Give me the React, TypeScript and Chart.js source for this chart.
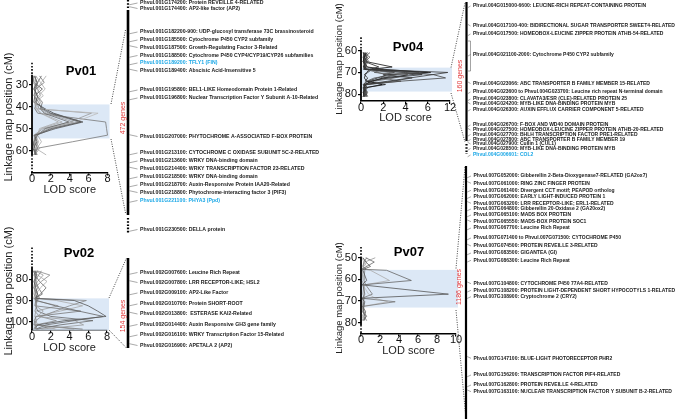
import React, { useEffect, useRef } from "react";
import { Chart, registerables } from "chart.js";

Chart.register(...registerables);

const FONT = "'Liberation Sans', Arial, Helvetica, sans-serif";

// ---------------- Pv01 ----------------
const pv01Markers = [26, 29, 32, 35, 38, 41, 43, 47, 50, 53, 56, 59, 62];
const pv01Profiles = [
  [0.3, 0.5, 0.2, 0.6, 0.4, 1.2, 2.0, 5.4, 2.5, 0.3, 0.5, 0.2, 0.4],
  [0.8, 1.3, 0.4, 0.2, 0.7, 1.0, 1.8, 5.0, 2.2, 0.5, 0.3, 0.6, 0.2],
  [0.2, 0.1, 0.6, 0.9, 0.3, 0.8, 1.5, 4.4, 1.8, 0.2, 0.4, 0.8, 0.3],
  [1.0, 0.6, 0.3, 0.5, 1.1, 0.9, 1.3, 3.9, 1.4, 0.6, 0.2, 0.3, 0.5],
  [0.4, 0.9, 1.4, 0.7, 0.2, 0.5, 1.0, 3.2, 1.0, 0.4, 0.7, 0.4, 1.5],
  [0.5, 0.2, 0.8, 0.3, 0.5, 0.4, 7.0, 4.6, 1.5, 0.5, 0.3, 0.2, 0.6],
  [0.3, 0.4, 0.2, 0.5, 0.9, 0.6, 6.3, 4.0, 1.2, 0.2, 0.6, 0.4, 0.3],
  [0.2, 0.6, 0.4, 0.3, 0.5, 0.3, 0.6, 7.8, 7.9, 8.0, 4.3, 0.5, 0.3],
  [1.5, 1.0, 0.5, 1.2, 0.4, 0.3, 0.9, 2.8, 0.8, 0.6, 1.0, 0.5, 0.2],
  [0.1, 0.2, 1.1, 0.3, 0.2, 1.4, 2.3, 5.2, 2.0, 0.3, 0.2, 0.1, 0.4],
];
const pv01Colors = ["#555", "#777", "#999", "#666", "#aaa", "#bbb", "#999", "#777", "#aaa", "#444"];
const pv01Interval = [39, 54.5];
const pv01YTicks = [30, 40, 50, 60];
const pv01XTicks = [0, 2, 4, 6, 8];
const pv01XTickLabels = ["0", "2", "4", "6", "8"];
const pv01Count = "472 genes";
const pv01Genes = [
  "Phvul.001G174200: Protein REVEILLE 4-RELATED",
  "Phvul.001G174400: AP2-like factor (AP2)",
  "Phvul.001G182200-900: UDP-glucosyl transferase 73C brassinosteroid",
  "Phvul.001G185500: Cytochrome P450 CYP2 subfamily",
  "Phvul.001G187500: Growth-Regulating Factor 3-Related",
  "Phvul.001G188500: Cytochrome P450 CYP4/CYP19/CYP26 subfamilies",
  "Phvul.001G189200: TFLY1 (FIN)",
  "Phvul.001G189400: Abscisic Acid-Insensitive 5",
  "Phvul.001G195800: BEL1-LIKE Homeodomain Protein 1-Related",
  "Phvul.001G196800: Nuclear Transcription Factor Y Subunit A-10-Related",
  "Phvul.001G207000: PHYTOCHROME A-ASSOCIATED F-BOX PROTEIN",
  "Phvul.001G213100: CYTOCHROME C OXIDASE SUBUNIT 5C-2-RELATED",
  "Phvul.001G213600: WRKY DNA-binding domain",
  "Phvul.001G214400: WRKY TRANSCRIPTION FACTOR 23-RELATED",
  "Phvul.001G218500: WRKY DNA-binding domain",
  "Phvul.001G218700: Auxin-Responsive Protein IAA20-Related",
  "Phvul.001G218800: Phytochrome-interacting factor 3 (PIF3)",
  "Phvul.001G221100: PHYA3 (Ppd)",
  "Phvul.001G230500: DELLA protein",
];

// ---------------- Pv02 ----------------
const pv02Markers = [76, 78, 81, 84, 87, 89, 90, 92.5, 95, 97.5, 99.5, 101.5, 103.5];
const pv02Profiles = [
  [0.3, 0.5, 0.2, 0.4, 0.6, 0.4, 4.5, 6.0, 7.0, 7.9, 3.5, 0.6, 0.3],
  [0.5, 1.9, 1.0, 0.3, 0.4, 0.6, 5.8, 4.0, 2.5, 1.0, 0.4, 0.3, 0.5],
  [0.2, 0.3, 0.8, 1.5, 0.9, 0.3, 0.5, 2.5, 5.0, 7.6, 4.5, 1.5, 0.4],
  [0.4, 0.2, 0.5, 0.3, 0.2, 0.5, 0.6, 0.4, 1.2, 0.6, 4.6, 5.5, 1.0],
  [1.0, 0.7, 0.3, 0.2, 0.6, 0.8, 0.4, 0.3, 5.2, 0.4, 0.3, 0.2, 5.4],
  [0.2, 0.6, 1.6, 0.9, 0.4, 0.3, 2.6, 5.4, 3.0, 0.5, 0.2, 0.8, 2.5],
  [0.6, 0.3, 0.4, 0.7, 1.1, 0.3, 0.5, 0.4, 0.6, 2.0, 6.5, 3.0, 0.5],
  [0.3, 1.2, 0.6, 0.2, 0.4, 0.7, 0.3, 2.8, 0.4, 0.3, 0.5, 0.4, 4.5],
  [0.1, 0.4, 0.3, 0.6, 0.3, 0.2, 0.4, 0.5, 0.3, 0.8, 2.6, 0.4, 0.2],
];
const pv02Colors = ["#555", "#888", "#666", "#999", "#777", "#aaa", "#666", "#999", "#888"];
const pv02Interval = [89, 104];
const pv02YTicks = [80, 90, 100];
const pv02XTicks = [0, 2, 4, 6, 8];
const pv02XTickLabels = ["0", "2", "4", "6", "8"];
const pv02Count = "154 genes";
const pv02Genes = [
  "Phvul.002G007600: Leucine Rich Repeat",
  "Phvul.002G007800: LRR RECEPTOR-LIKE; HSL2",
  "Phvul.002G009100: AP2-Like Factor",
  "Phvul.002G010700: Protein SHORT-ROOT",
  "Phvul.002G013800:  ESTERASE KAI2-Related",
  "Phvul.002G014400: Auxin Responsive GH3 gene family",
  "Phvul.002G016100: WRKY Transcription Factor 15-Related",
  "Phvul.002G016900: APETALA 2 (AP2)",
];

// ---------------- Pv04 ----------------
const pv04Markers = [61, 63, 65, 67.5, 68.5, 70, 71, 72.5, 74, 75.5, 77, 79, 81];
const pv04Profiles = [
  [0.2, 0.5, 0.3, 0.3, 0.4, 11.4, 7.3, 4.4, 2.4, 0.3, 0.3, 0.4, 0.2],
  [0.3, 0.2, 0.6, 0.2, 0.5, 4.0, 7.5, 10.8, 3.5, 0.4, 0.2, 0.3, 0.5],
  [0.5, 0.3, 0.2, 0.4, 0.3, 6.8, 4.5, 2.0, 1.0, 0.3, 0.6, 0.2, 0.3],
  [0.2, 0.8, 0.4, 0.2, 0.6, 5.2, 3.1, 1.2, 0.5, 0.2, 0.3, 0.5, 0.4],
  [0.6, 0.2, 0.3, 0.5, 0.2, 3.8, 5.5, 2.5, 0.8, 0.5, 0.2, 0.4, 0.6],
  [0.3, 0.4, 0.7, 0.3, 0.3, 2.5, 4.2, 3.0, 1.2, 0.3, 0.5, 0.3, 0.2],
  [0.4, 0.3, 0.2, 0.6, 1.8, 6.0, 2.4, 1.5, 0.6, 0.2, 0.4, 0.2, 0.3],
  [0.2, 0.6, 0.4, 0.3, 2.0, 1.2, 3.2, 2.0, 0.9, 0.4, 0.3, 0.6, 0.4],
  [0.8, 0.3, 0.5, 0.2, 0.4, 3.0, 2.0, 4.6, 2.8, 0.5, 0.2, 0.3, 0.2],
  [0.3, 0.5, 0.2, 0.4, 0.3, 1.5, 2.2, 1.8, 3.6, 0.6, 0.3, 0.2, 0.5],
  [0.2, 0.3, 0.4, 2.8, 1.0, 0.6, 0.4, 0.3, 0.5, 1.9, 0.4, 0.3, 0.2],
  [0.4, 0.2, 0.3, 1.6, 0.8, 0.5, 0.3, 0.6, 0.4, 2.2, 0.3, 0.5, 0.3],
];
const pv04Colors = ["#333", "#444", "#222", "#555", "#333", "#666", "#222", "#555", "#444", "#666", "#111", "#222"];
const pv04Interval = [67.8, 78.7];
const pv04YTicks = [60, 70, 80];
const pv04XTicks = [0, 2, 4, 6, 12];
const pv04XTickLabels = ["0", "2", "4", "6", "12"];
const pv04Count = "160 genes";
const pv04Genes = [
  "Phvul.004G015000-6600: LEUCINE-RICH REPEAT-CONTAINING PROTEIN",
  "Phvul.004G017100-400: BIDIRECTIONAL SUGAR TRANSPORTER SWEET4-RELATED",
  "Phvul.004G017500: HOMEOBOX-LEUCINE ZIPPER PROTEIN ATHB-54-RELATED",
  "Phvul.004G021100-2000: Cytochrome P450 CYP2 subfamily",
  "Phvul.004G023066: ABC TRANSPORTER B FAMILY MEMBER 15-RELATED",
  "Phvul.004G023600 to Phvul.004G023700: Leucine rich repeat N-terminal domain",
  "Phvul.004G023800: CLAVATA3/ESR (CLE)-RELATED PROTEIN 25",
  "Phvul.004G024200: MYB-LIKE DNA-BINDING PROTEIN MYB",
  "Phvul.004G026300: AUXIN EFFLUX CARRIER COMPONENT 5-RELATED",
  "Phvul.004G026700: F-BOX AND WD40 DOMAIN PROTEIN",
  "Phvul.004G027500: HOMEOBOX-LEUCINE ZIPPER PROTEIN ATHB-20-RELATED",
  "Phvul.004G027700: BHLH TRANSCRIPTION FACTOR PRE1-RELATED",
  "Phvul.004G027800: ABC TRANSPORTER B FAMILY MEMBER 19",
  "Phvul.004G027900: Cullin 1 (CUL1)",
  "Phvul.004G028500: MYB-LIKE DNA-BINDING PROTEIN MYB",
  "Phvul.004G006601: COL2",
];

// ---------------- Pv07 ----------------
const pv07Markers = [50, 52, 54, 55.3, 55.8, 60.5, 62.5, 66.8, 68.7, 70.3, 72.5, 75, 77, 79];
const pv07Profiles = [
  [0.5, 1.4, 0.6, 0.1, 2.7, 5.3, 0.2, 0.4, 0.2, 0.3, 0.2, 0.5, 0.3, 0.6],
  [0.2, 0.5, 1.0, 0.3, 0.2, 0.6, 0.1, 9.2, 0.1, 0.4, 0.3, 0.2, 0.5, 0.3],
  [0.6, 0.3, 0.2, 0.5, 0.4, 0.3, 0.5, 1.2, 0.1, 3.6, 0.1, 0.3, 0.6, 0.2],
  [0.2, 0.6, 0.3, 0.1, 1.0, 3.0, 0.4, 0.3, 0.2, 0.1, 0.2, 0.3, 0.2, 0.4],
  [0.1, 0.3, 0.6, 0.2, 0.1, 0.4, 0.2, 0.8, 1.5, 2.8, 0.2, 0.4, 0.1, 0.3],
  [1.5, 0.4, 0.2, 0.3, 0.2, 0.1, 0.3, 0.2, 0.4, 0.2, 0.3, 0.2, 0.4, 0.1],
];
const pv07Colors = ["#666", "#555", "#777", "#aaa", "#bbb", "#999"];
const pv07Interval = [55.6, 73];
const pv07YTicks = [50, 60, 70, 80];
const pv07XTicks = [0, 2, 4, 6, 8, 10];
const pv07XTickLabels = ["0", "2", "4", "6", "8", "10"];
const pv07Count = "1186 genes";
const pv07Genes = [
  "Phvul.007G052000: Gibberellin 2-Beta-Dioxygenase7-RELATED (GA2ox7)",
  "Phvul.007G061000: RING ZINC FINGER PROTEIN",
  "Phvul.007G061400: Divergent CCT motif; PEAPOD ortholog",
  "Phvul.007G062000: EARLY LIGHT-INDUCED PROTEIN 1",
  "Phvul.007G063200: LRR RECEPTOR-LIKE; ERL1-RELATED",
  "Phvul.007G064800: Gibberellin 20-Oxidase 2 (GA20ox2)",
  "Phvul.007G065100: MADS BOX PROTEIN",
  "Phvul.007G065550: MADS-BOX PROTEIN SOC1",
  "Phvul.007G067700: Leucine Rich Repeat",
  "Phvul.007G071400 to Phvul.007G071500: CYTOCHROME P450",
  "Phvul.007G074500: PROTEIN REVEILLE 3-RELATED",
  "Phvul.007G083500: GIGANTEA (GI)",
  "Phvul.007G086300: Leucine Rich Repeat",
  "Phvul.007G104800: CYTOCHROME P450 77A4-RELATED",
  "Phvul.007G108200: PROTEIN LIGHT-DEPENDENT SHORT HYPOCOTYLS 1-RELATED",
  "Phvul.007G108900: Cryptochrome 2 (CRY2)",
  "Phvul.007G147100: BLUE-LIGHT PHOTORECEPTOR PHR2",
  "Phvul.007G156200: TRANSCRIPTION FACTOR PIF4-RELATED",
  "Phvul.007G162800: PROTEIN REVEILLE 4-RELATED",
  "Phvul.007G163100: NUCLEAR TRANSCRIPTION FACTOR Y SUBUNIT B-2-RELATED",
];

const highlightedGenes = [
  "Phvul.001G189200: TFLY1 (FIN)",
  "Phvul.001G221100: PHYA3 (Ppd)",
  "Phvul.004G006601: COL2",
];

// broken LOD axis for Pv04: linear to 6, compressed 6..12 into 6..8
const identity = (v: number) => v;
const pv04Lod = (v: number) => (v <= 6 ? v : 6 + (v - 6) / 3);

// ---------------- layout (page pixels) ----------------
type Spec = any;
const panels: Spec[] = [
  {
    id: "Pv01", left: 0, top: 0, w: 340, h: 240,
    area: { left: 32, top: 62.7, right: 107.5, bottom: 172.5 },
    markers: pv01Markers, profiles: pv01Profiles, colors: pv01Colors, xf: identity,
    xMin: 0, xMax: 8, xTicks: pv01XTicks, xTickLabels: pv01XTickLabels,
    yMin: 20, yMax: 70, yTicks: pv01YTicks, interval: pv01Interval, solid: [25.5, 62],
    title: { x: 81, y: 71 }, yTitle: { x: 9, y: 117, size: 11 },
    bar: { x: 128, top: 10, bottom: 215, w: 2.6, dotsTop: [0, 9], dotsBottom: [218, 234] },
    textX: 140, geneFont: 5.2, genes: pv01Genes,
    geneY: [3, 8.5, 32, 40, 47.5, 55.5, 63, 71, 90, 98, 136.5, 153, 161, 169, 177, 185, 192.5, 200.5, 229.5],
    count: { text: pv01Count, x: 123, y: 118 },
    zoom: [[111, 104, 125.5, 30], [111, 139, 125.5, 213]],
  },
  {
    id: "Pv02", left: 0, top: 215, w: 340, h: 204,
    area: { left: 32, top: 247.5, right: 107, bottom: 330.2 },
    markers: pv02Markers, profiles: pv02Profiles, colors: pv02Colors, xf: identity,
    xMin: 0, xMax: 8, xTicks: pv02XTicks, xTickLabels: pv02XTickLabels,
    yMin: 65, yMax: 104, yTicks: pv02YTicks, interval: pv02Interval, solid: [74, 104],
    title: { x: 79, y: 253 }, yTitle: { x: 8.5, y: 291, size: 11 },
    bar: { x: 128, top: 258, bottom: 348, w: 2.6 },
    textX: 140, geneFont: 5.2, genes: pv02Genes,
    geneY: [272.5, 282.5, 293, 304, 314, 324.5, 335, 345.5],
    count: { text: pv02Count, x: 123.5, y: 316 },
    zoom: [[109, 298, 126.5, 258], [109, 330, 126.5, 348]],
  },
  {
    id: "Pv04", left: 328, top: 0, w: 348, h: 165,
    area: { left: 361, top: 37.3, right: 450, bottom: 101 },
    markers: pv04Markers, profiles: pv04Profiles, colors: pv04Colors, xf: pv04Lod,
    xMin: 0, xMax: 8, xTicks: pv04XTicks, xTickLabels: pv04XTickLabels,
    yMin: 54, yMax: 83, yTicks: pv04YTicks, interval: pv04Interval, solid: [59.5, 83],
    title: { x: 408, y: 47 }, yTitle: { x: 339, y: 59, size: 9.5 },
    bar: { x: 466.5, top: 2, bottom: 141, w: 2.2, dotsBottom: [144, 154] },
    textX: 473, geneFont: 5, genes: pv04Genes,
    geneY: [6, 26, 34, 54.5, 83.5, 92, 99, 104, 109.5, 125, 130, 134.5, 139.5, 144, 148.5, 155],
    count: { text: pv04Count, x: 460, y: 76 },
    zoom: [[451, 67.5, 465, 3], [451, 93, 465, 142]],
    bracket: [41, 71],
  },
  {
    id: "Pv07", left: 328, top: 162, w: 348, h: 257,
    area: { left: 361, top: 246.9, right: 456, bottom: 333.6 },
    markers: pv07Markers, profiles: pv07Profiles, colors: pv07Colors, xf: identity,
    xMin: 0, xMax: 10, xTicks: pv07XTicks, xTickLabels: pv07XTickLabels,
    yMin: 45, yMax: 85, yTicks: pv07YTicks, interval: pv07Interval, solid: [49.5, 81],
    title: { x: 409, y: 252 }, yTitle: { x: 339, y: 298, size: 9.5 },
    bar: { x: 466, top: 166, bottom: 419, w: 2.2 },
    textX: 473.5, geneFont: 5, genes: pv07Genes,
    geneY: [176, 183.3, 190.3, 196.7, 203.3, 209, 215, 221.7, 228, 238, 246, 253, 260.3, 283.7, 290.3, 296.7, 358.3, 375, 385, 391.7],
    count: { text: pv07Count, x: 459, y: 287 },
    zoom: [[456, 268.5, 465, 167], [456, 310, 466, 419]],
  },
];

function dottedV(ctx: CanvasRenderingContext2D, x: number, y0: number, y1: number, w: number) {
  ctx.save();
  ctx.strokeStyle = "#000";
  ctx.lineWidth = w;
  ctx.setLineDash([1.6, 1.6]);
  ctx.beginPath();
  ctx.moveTo(x, y0);
  ctx.lineTo(x, y1);
  ctx.stroke();
  ctx.restore();
}

function makePlugin(spec: Spec) {
  return {
    id: "panel" + spec.id,
    beforeDatasetsDraw(chart: any) {
      const { ctx, chartArea, scales } = chart;
      const y0 = scales.y.getPixelForValue(spec.interval[0]);
      const y1 = scales.y.getPixelForValue(spec.interval[1]);
      ctx.save();
      ctx.fillStyle = "rgba(214, 228, 244, 0.85)";
      ctx.fillRect(chartArea.left, y0, chartArea.right + 2 - chartArea.left, y1 - y0);
      ctx.restore();
    },
    afterDraw(chart: any) {
      const { ctx, chartArea, scales } = chart;
      // y axis: solid part + dotted extensions
      const ax = chartArea.left;
      const ys0 = scales.y.getPixelForValue(spec.solid[0]);
      const ys1 = scales.y.getPixelForValue(spec.solid[1]);
      ctx.save();
      ctx.strokeStyle = "#000";
      ctx.lineWidth = 1.8;
      ctx.beginPath();
      ctx.moveTo(ax, ys0);
      ctx.lineTo(ax, ys1);
      ctx.stroke();
      ctx.restore();
      if (ys0 > chartArea.top + 1) dottedV(ctx, ax, chartArea.top, ys0, 1.6);
      if (ys1 < chartArea.bottom - 1) dottedV(ctx, ax, ys1, chartArea.bottom, 1.6);

      // page-coordinate annotations
      ctx.save();
      ctx.translate(-spec.left, -spec.top);

      // panel title
      ctx.fillStyle = "#000";
      ctx.font = `bold 13px ${FONT}`;
      ctx.textAlign = "center";
      ctx.textBaseline = "middle";
      ctx.fillText(spec.id, spec.title.x, spec.title.y);

      // y title
      ctx.save();
      ctx.translate(spec.yTitle.x, spec.yTitle.y);
      ctx.rotate(-Math.PI / 2);
      ctx.font = `${spec.yTitle.size}px ${FONT}`;
      ctx.fillStyle = "#222";
      ctx.fillText("Linkage map position (cM)", 0, 0);
      ctx.restore();

      // zoom (dotted) lines
      ctx.save();
      ctx.strokeStyle = "#333";
      ctx.lineWidth = 0.9;
      ctx.setLineDash([1, 1.4]);
      spec.zoom.forEach((z: number[]) => {
        ctx.beginPath();
        ctx.moveTo(z[0], z[1]);
        ctx.lineTo(z[2], z[3]);
        ctx.stroke();
      });
      ctx.restore();

      // chromosome bar
      const b = spec.bar;
      ctx.fillStyle = "#000";
      ctx.fillRect(b.x - b.w / 2, b.top, b.w, b.bottom - b.top);
      if (b.dotsTop) dottedV(ctx, b.x, b.dotsTop[0], b.dotsTop[1], 2.2);
      if (b.dotsBottom) dottedV(ctx, b.x, b.dotsBottom[0], b.dotsBottom[1], 2.2);

      // bracket for ranges
      if (spec.bracket) {
        ctx.save();
        ctx.strokeStyle = "#666";
        ctx.lineWidth = 0.6;
        ctx.beginPath();
        ctx.moveTo(b.x + 1.5, spec.bracket[0]);
        ctx.lineTo(b.x + 4, spec.bracket[0]);
        ctx.lineTo(b.x + 4, spec.bracket[1]);
        ctx.lineTo(b.x + 1.5, spec.bracket[1]);
        ctx.stroke();
        ctx.restore();
      }

      // gene count (red, rotated)
      ctx.save();
      ctx.translate(spec.count.x, spec.count.y);
      ctx.rotate(-Math.PI / 2);
      ctx.font = `7px ${FONT}`;
      ctx.fillStyle = "#e2383a";
      ctx.textAlign = "center";
      ctx.textBaseline = "middle";
      ctx.fillText(spec.count.text, 0, 0);
      ctx.restore();

      // gene labels with connectors
      ctx.font = `bold ${spec.geneFont}px ${FONT}`;
      ctx.textAlign = "left";
      ctx.textBaseline = "middle";
      spec.genes.forEach((g: string, i: number) => {
        const y = spec.geneY[i];
        const hl = highlightedGenes.includes(g);
        ctx.save();
        ctx.strokeStyle = "#555";
        ctx.lineWidth = 0.5;
        ctx.beginPath();
        const d = i % 3 === 1 ? -1.8 : 1.8;
        ctx.moveTo(b.x + b.w / 2, y + d);
        ctx.lineTo(spec.textX - 2.5, y);
        ctx.stroke();
        ctx.restore();
        ctx.fillStyle = hl ? "#1aa7e6" : "#1a1a1a";
        ctx.fillText(g, spec.textX, y);
      });

      ctx.restore();
    },
  };
}

function buildConfig(spec: Spec): any {
  const c = spec.area;
  const yAxisW = c.left - spec.left;
  const xAxisH = 24;
  const areaTop = c.top - spec.top;
  const areaBottom = c.bottom - spec.top;
  const areaRight = c.right - spec.left;
  const datasets = spec.profiles.map((p: number[], i: number) => ({
    data: spec.markers.map((m: number, j: number) => ({ x: spec.xf(p[j]), y: m })),
    showLine: true,
    borderColor: spec.colors[i % spec.colors.length],
    borderWidth: 0.8,
    pointRadius: 0,
    pointHoverRadius: 0,
    fill: false,
    tension: 0,
    clip: false,
  }));
  const tickFont = { family: FONT, size: 11 };
  return {
    type: "scatter",
    data: { datasets },
    options: {
      animation: false,
      responsive: false,
      maintainAspectRatio: false,
      events: [],
      layout: {
        padding: {
          left: 0,
          top: areaTop,
          right: spec.w - areaRight,
          bottom: spec.h - areaBottom - xAxisH,
        },
      },
      plugins: { legend: { display: false }, tooltip: { enabled: false }, title: { display: false } },
      scales: {
        x: {
          type: "linear",
          min: spec.xMin,
          max: spec.xMax,
          afterBuildTicks: (s: any) => {
            s.ticks = spec.xTicks.map((v: number) => ({ value: spec.xf(v) }));
          },
          afterFit: (s: any) => {
            s.height = xAxisH;
          },
          border: { display: true, color: "#000", width: 1.5 },
          grid: { display: true, drawOnChartArea: false, drawTicks: true, tickLength: 3, color: "#000", lineWidth: 1.2 },
          ticks: {
            color: "#111",
            font: tickFont,
            padding: -3,
            maxRotation: 0,
            autoSkip: false,
            callback: (_v: any, i: number) => spec.xTickLabels[i],
          },
          title: { display: true, text: "LOD score", color: "#222", font: { family: FONT, size: 11 }, padding: 0 },
        },
        y: {
          type: "linear",
          reverse: true,
          min: spec.yMin,
          max: spec.yMax,
          afterBuildTicks: (s: any) => {
            s.ticks = spec.yTicks.map((v: number) => ({ value: v }));
          },
          afterFit: (s: any) => {
            s.width = yAxisW;
          },
          border: { display: false },
          grid: { display: true, drawOnChartArea: false, drawTicks: true, tickLength: 3, color: "#000", lineWidth: 1.2 },
          ticks: { color: "#111", font: tickFont, padding: 1, autoSkip: false },
        },
      },
    },
    plugins: [makePlugin(spec)],
  };
}

function Panel({ spec }: { spec: Spec }) {
  const ref = useRef<HTMLCanvasElement>(null);
  useEffect(() => {
    const chart = new Chart(ref.current as HTMLCanvasElement, buildConfig(spec));
    return () => chart.destroy();
  }, [spec]);
  return (
    <canvas
      ref={ref}
      width={spec.w}
      height={spec.h}
      style={{ position: "absolute", left: spec.left, top: spec.top, width: spec.w, height: spec.h }}
    />
  );
}

export default function App() {
  return (
    <div
      style={{
        position: "fixed",
        left: 0,
        top: 0,
        width: 676,
        height: 419,
        background: "#fff",
        overflow: "hidden",
      }}
    >
      {panels.map((p) => (
        <Panel key={p.id} spec={p} />
      ))}
    </div>
  );
}
